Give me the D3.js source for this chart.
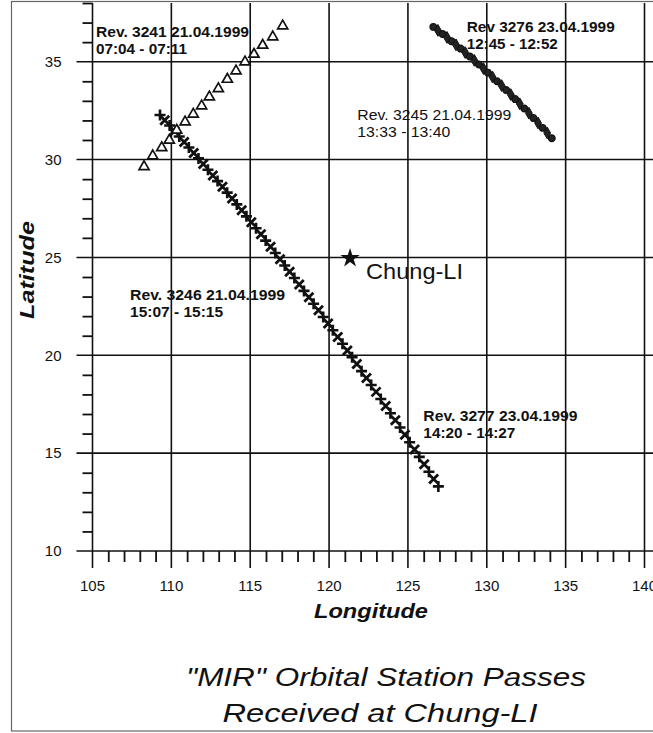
<!DOCTYPE html>
<html>
<head>
<meta charset="utf-8">
<script src="https://cdn.jsdelivr.net/npm/d3@7"></script>
<style>
  html, body { margin: 0; padding: 0; background: #fff; }
  svg { display: block; }
  text { font-family: Arial, "Liberation Sans", sans-serif; fill: #111; }
</style>
</head>
<body>
<svg id="chart" width="653" height="733"></svg>
<script>
// ---------------- DATA ----------------
const lonTicks = [105, 110, 115, 120, 125, 130, 135, 140];
const latTicks = [10, 15, 20, 25, 30, 35];

// Rev. 3241 (open triangles)
const rev3241Lon = [108.27, 108.82, 109.39, 109.87, 110.34, 110.87, 111.39, 111.92, 112.41, 112.98, 113.55, 114.10, 114.67, 115.24, 115.79, 116.43, 117.06];
const rev3241Lat = [29.69, 30.24, 30.66, 31.04, 31.55, 31.97, 32.37, 32.79, 33.25, 33.67, 34.15, 34.58, 35.04, 35.43, 35.89, 36.32, 36.88];

// Rev. 3276 (filled circles)
const rev3276Lon = [126.61, 127.19, 127.76, 128.34, 128.92, 129.50, 130.07, 130.65, 131.23, 131.80, 132.38, 132.96, 133.54, 134.12];
const rev3276Lat = [36.78, 36.42, 36.05, 35.67, 35.27, 34.86, 34.44, 34.00, 33.55, 33.09, 32.61, 32.12, 31.62, 31.09];

// Rev. 3245 (filled diamonds)
const rev3245Lon = [126.90, 127.48, 128.05, 128.63, 129.21, 129.79, 130.36, 130.94, 131.52, 132.09, 132.67, 133.25, 133.83];
const rev3245Lat = [36.60, 36.24, 35.86, 35.47, 35.07, 34.65, 34.22, 33.78, 33.32, 32.85, 32.37, 31.87, 31.36];

// Rev. 3246 (plus markers)
const rev3246Lon = [109.28, 109.89, 110.50, 111.11, 111.72, 112.32, 112.93, 113.54, 114.15, 114.76, 115.37, 115.98, 116.59, 117.19, 117.80, 118.41, 119.02, 119.63, 120.24, 120.85, 121.46, 122.06, 122.67, 123.28, 123.89, 124.50, 125.11, 125.72, 126.33, 126.93];
const rev3246Lat = [32.28, 31.74, 31.18, 30.62, 30.06, 29.48, 28.90, 28.31, 27.71, 27.10, 26.49, 25.86, 25.23, 24.59, 23.95, 23.29, 22.63, 21.96, 21.28, 20.59, 19.90, 19.19, 18.48, 17.77, 17.04, 16.31, 15.56, 14.81, 14.05, 13.30];

// Rev. 3277 (cross markers)
const rev3277Lon = [109.58, 110.20, 110.81, 111.42, 112.02, 112.63, 113.24, 113.85, 114.46, 115.07, 115.68, 116.29, 116.89, 117.50, 118.11, 118.72, 119.33, 119.94, 120.55, 121.16, 121.76, 122.37, 122.98, 123.59, 124.20, 124.81, 125.42, 126.03, 126.63];
const rev3277Lat = [32.01, 31.46, 30.90, 30.34, 29.77, 29.19, 28.61, 28.01, 27.41, 26.80, 26.18, 25.55, 24.91, 24.27, 23.62, 22.96, 22.30, 21.62, 20.94, 20.25, 19.55, 18.84, 18.13, 17.41, 16.68, 15.94, 15.19, 14.43, 13.68];

// Station
const stationName = "Chung-LI";
const stationLon = 121.33;
const stationLat = 24.96;

// Pass annotations
const passLine1 = ["Rev. 3241 21.04.1999", "Rev 3276 23.04.1999", "Rev. 3245 21.04.1999", "Rev. 3246 21.04.1999", "Rev. 3277 23.04.1999"];
const passLine2 = ["07:04 - 07:11", "12:45 - 12:52", "13:33 - 13:40", "15:07 - 15:15", "14:20 - 14:27"];
const passLabelLon = [105.22, 128.73, 121.79, 107.38, 125.98];
const passLabelLat = [36.24, 36.54, 32.02, 22.80, 16.62];

const xTitle = "Longitude";
const yTitle = "Latitude";
const titleLines = ["\"MIR\" Orbital Station Passes", "Received at Chung-LI"];

// ---------------- DRAW ----------------
const svg = d3.select("#chart");
const W = 653, H = 733;

const x = d3.scaleLinear().domain([105, 140]).range([92.5, 644.5]);
const y = d3.scaleLinear().domain([10, 38]).range([551, 3]);

// outer frame
svg.append("rect").attr("x", 11.5).attr("y", 1.5).attr("width", 660).attr("height", 729.5)
  .attr("fill", "none").attr("stroke", "#666").attr("stroke-width", 1.2);

const g = svg.append("g");
const ink = "#111";

// minor ticks
const minorLon = d3.range(106, 140).filter(v => v % 5 !== 0);
const minorLat = d3.range(11, 39).filter(v => v % 5 !== 0);

const xMinor = d3.axisBottom(x).tickValues(minorLon).tickSize(11).tickFormat("");
const yMinor = d3.axisLeft(y).tickValues(minorLat).tickSize(10).tickFormat("");
g.append("g").attr("transform", `translate(0,${y(10)})`).call(xMinor)
  .call(a => a.select(".domain").remove())
  .selectAll("line").attr("stroke", ink).attr("stroke-width", 1.8);
g.append("g").attr("transform", `translate(${x(105)},0)`).call(yMinor)
  .call(a => a.select(".domain").remove())
  .selectAll("line").attr("stroke", ink).attr("stroke-width", 1.8);

// vertical grid lines (with major tick below axis)
g.append("g").selectAll("line").data(lonTicks).join("line")
  .attr("x1", d => x(d)).attr("x2", d => x(d))
  .attr("y1", y(38)).attr("y2", y(10) + 17)
  .attr("stroke", ink).attr("stroke-width", 1.6);

// horizontal grid lines (with major tick left of axis)
g.append("g").selectAll("line").data(latTicks).join("line")
  .attr("x1", x(105) - 16).attr("x2", W)
  .attr("y1", d => y(d)).attr("y2", d => y(d))
  .attr("stroke", ink).attr("stroke-width", 1.6);

// tick labels
g.append("g").selectAll("text").data(lonTicks).join("text")
  .attr("x", d => x(d)).attr("y", y(10) + 40)
  .attr("text-anchor", "middle").attr("font-size", 15)
  .text(d => d);
g.append("g").selectAll("text").data(latTicks).join("text")
  .attr("x", x(105) - 31).attr("y", d => y(d) + 5.3)
  .attr("text-anchor", "end").attr("font-size", 15)
  .text(d => d);

// axis titles
svg.append("text").attr("x", 371).attr("y", 618)
  .attr("text-anchor", "middle").attr("font-size", 21)
  .attr("font-weight", "bold").attr("font-style", "italic")
  .attr("textLength", 114).attr("lengthAdjust", "spacingAndGlyphs")
  .text(xTitle);
svg.append("text").attr("transform", "translate(34,270) rotate(-90)")
  .attr("text-anchor", "middle").attr("font-size", 21)
  .attr("font-weight", "bold").attr("font-style", "italic")
  .attr("textLength", 98).attr("lengthAdjust", "spacingAndGlyphs")
  .text(yTitle);

// main title
const titleY = [686, 721.5];
const titleLen = [400, 315];
const titleX = [386, 380];
svg.append("g").selectAll("text").data(titleLines).join("text")
  .attr("x", (d, i) => titleX[i]).attr("y", (d, i) => titleY[i])
  .attr("text-anchor", "middle").attr("font-size", 26).attr("font-style", "italic")
  .attr("textLength", (d, i) => titleLen[i]).attr("lengthAdjust", "spacingAndGlyphs")
  .text(d => d);

// ---------------- SERIES ----------------
const zip = (a, b) => a.map((v, i) => [v, b[i]]);
const marks = svg.append("g");

// Rev 3246 : plus
marks.append("g").selectAll("path").data(zip(rev3246Lon, rev3246Lat)).join("path")
  .attr("transform", d => `translate(${x(d[0])},${y(d[1])})`)
  .attr("d", "M-5.5,0H5.5M0,-5.5V5.5")
  .attr("stroke", ink).attr("stroke-width", 2.6).attr("fill", "none");
// Rev 3277 : x
marks.append("g").selectAll("path").data(zip(rev3277Lon, rev3277Lat)).join("path")
  .attr("transform", d => `translate(${x(d[0])},${y(d[1])})`)
  .attr("d", "M-4.5,-4.5L4.5,4.5M-4.5,4.5L4.5,-4.5")
  .attr("stroke", ink).attr("stroke-width", 2.8).attr("fill", "none");
// Rev 3276 : circles
marks.append("g").selectAll("path").data(zip(rev3276Lon, rev3276Lat)).join("path")
  .attr("transform", d => `translate(${x(d[0])},${y(d[1])})`)
  .attr("d", d3.symbol(d3.symbolCircle, 36))
  .attr("fill", "#222").attr("stroke", ink).attr("stroke-width", 1.2);
// Rev 3245 : diamonds
marks.append("g").selectAll("path").data(zip(rev3245Lon, rev3245Lat)).join("path")
  .attr("transform", d => `translate(${x(d[0])},${y(d[1])})`)
  .attr("d", d3.symbol(d3.symbolDiamond, 40))
  .attr("fill", "#222").attr("stroke", ink).attr("stroke-width", 1);
// Rev 3241 : open triangles
marks.append("g").selectAll("path").data(zip(rev3241Lon, rev3241Lat)).join("path")
  .attr("transform", d => `translate(${x(d[0])},${y(d[1]) + 1})`)
  .attr("d", d3.symbol(d3.symbolTriangle, 44))
  .attr("fill", "#fff").attr("stroke", ink).attr("stroke-width", 1.7);

// station
svg.append("path")
  .attr("transform", `translate(${x(stationLon)},${y(stationLat)})`)
  .attr("d", d3.symbol(d3.symbolStar, 115))
  .attr("fill", ink);
svg.append("text").attr("x", x(stationLon) + 16).attr("y", y(stationLat) + 20.5)
  .attr("font-size", 22).attr("textLength", 97).attr("lengthAdjust", "spacingAndGlyphs")
  .text(stationName);

// pass annotations
const l1Len = [153, 148, 154, 155, 154];
const l2Len = [91, 91, 93, 93, 92];
const l1Weight = ["bold", "bold", "normal", "bold", "bold"];
const ann = svg.append("g");
passLine1.forEach((t, i) => {
  const ax = x(passLabelLon[i]), ay = y(passLabelLat[i]);
  ann.append("text").attr("x", ax).attr("y", ay)
    .attr("font-size", 14).attr("font-weight", l1Weight[i])
    .attr("textLength", l1Len[i]).attr("lengthAdjust", "spacingAndGlyphs")
    .text(t);
  ann.append("text").attr("x", ax).attr("y", ay + 17)
    .attr("font-size", 14).attr("font-weight", l1Weight[i])
    .attr("textLength", l2Len[i]).attr("lengthAdjust", "spacingAndGlyphs")
    .text(passLine2[i]);
});
</script>
</body>
</html>
